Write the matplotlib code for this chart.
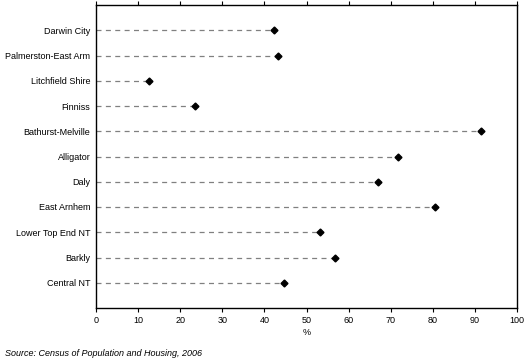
import matplotlib
matplotlib.use('Agg')
import matplotlib.pyplot as plt

regions = ['Darwin City', 'Palmerston-East Arm', 'Litchfield Shire', 'Finniss',
           'Bathurst-Melville', 'Alligator', 'Daly', 'East Arnhem',
           'Lower Top End NT', 'Barkly', 'Central NT']
values = [42.3, 43.2, 12.5, 23.5, 91.4, 71.7, 67.1, 80.6, 53.3, 56.7, 44.7]
xticks = [0, 10, 20, 30, 40, 50, 60, 70, 80, 90, 100]

plt.rcParams['font.family'] = ['Liberation Sans', 'DejaVu Sans']
plt.rcParams['font.size'] = 6.5

fig = plt.figure(figsize=(5.29, 3.63), dpi=100)
ax = fig.add_axes([96 / 529, 1 - 308 / 363, 421 / 529, 303 / 363])

ypos = list(range(len(regions)))
for y, v in zip(ypos, values):
    ax.plot([0, v], [y, y], color='#808080', lw=0.9, dashes=(4, 3.5))
ax.plot(values, ypos, 'D', color='black', ms=3.5, zorder=3)

ax.set_xlim(0, 100)
ax.set_ylim(len(regions), -1)
ax.set_xticks(xticks)
ax.set_yticks(ypos)
ax.set_yticklabels(regions)
ax.tick_params(axis='y', length=0, pad=4)
ax.tick_params(axis='x', length=3, width=0.8, top=True, direction='out', pad=3)
for s in ax.spines.values():
    s.set_linewidth(1.0)
ax.set_xlabel('%', labelpad=2)

fig.text(5 / 529, 1 - 353 / 363, 'Source: Census of Population and Housing, 2006',
         fontsize=6.5, style='italic', va='center')

fig.savefig('out.png', dpi=100)
